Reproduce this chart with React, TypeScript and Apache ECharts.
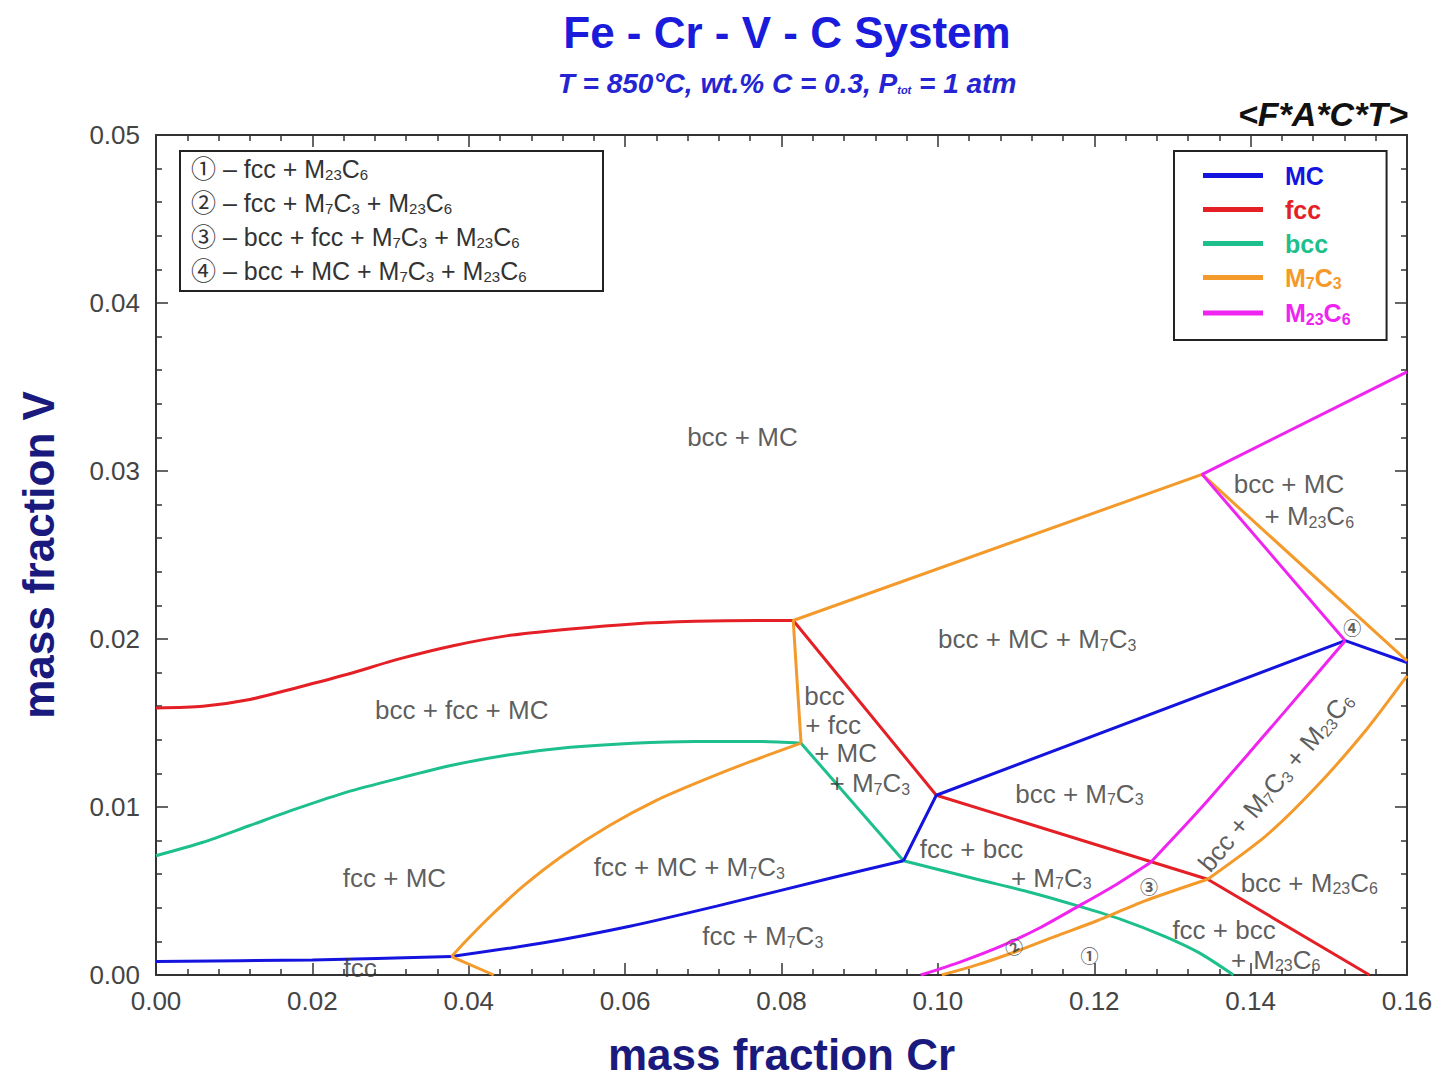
import React, { useEffect, useRef } from 'react';
import * as echarts from 'echarts';

const FONT = "'Liberation Sans', Arial, Helvetica, 'Noto Sans CJK SC', sans-serif";

// ---- phase boundary data: [mass fraction Cr, mass fraction V] ----
const fccCurve = [[0, 0.0159], [0.006, 0.016], [0.012, 0.0164], [0.018, 0.0171], [0.0245, 0.0179], [0.031, 0.0188], [0.038, 0.0196], [0.045, 0.0202], [0.053, 0.0206], [0.061, 0.0209], [0.069, 0.02105], [0.077, 0.0211], [0.0815, 0.0211]];
const fccLine = [[0.0815, 0.0211], [0.0998, 0.0107], [0.1345, 0.0057], [0.1552, 0]];

const bccCurve = [[0, 0.0071], [0.006, 0.0079], [0.012, 0.0089], [0.018, 0.0099], [0.0245, 0.0109], [0.031, 0.0117], [0.038, 0.0125], [0.045, 0.0131], [0.053, 0.01355], [0.061, 0.0138], [0.069, 0.0139], [0.077, 0.0139], [0.0825, 0.0138]];
const bccLine = [[0.0825, 0.0138], [0.0956, 0.0068]];
const bccLower = [[0.0956, 0.0068], [0.105, 0.0057], [0.112, 0.0049], [0.118, 0.0041], [0.1235, 0.0033], [0.129, 0.0023], [0.1335, 0.0013], [0.1378, 0]];

const mcFlat = [[0, 0.0008], [0.02, 0.0009], [0.0378, 0.0011]];
const mcMid = [[0.0378, 0.0011], [0.0494, 0.0019], [0.0606, 0.0029], [0.0717, 0.0041], [0.0866, 0.0058], [0.0956, 0.0068]];
const mcUpper = [[0.0956, 0.0068], [0.0998, 0.0107], [0.1521, 0.0199], [0.16, 0.0186]];

const m7Foot = [[0.0378, 0.0011], [0.0432, 0]];
const m7Curve = [[0.0378, 0.0011], [0.04, 0.0022], [0.043, 0.0036], [0.047, 0.0053], [0.052, 0.0071], [0.058, 0.0089], [0.064, 0.0104], [0.07, 0.0116], [0.076, 0.0127], [0.0825, 0.0138]];
const m7Upper = [[0.0825, 0.0138], [0.0815, 0.0211], [0.1338, 0.0298], [0.16, 0.0187]];
const m7LowA = [[0.1005, 0], [0.105, 0.0006], [0.11, 0.0014], [0.115, 0.0023], [0.1202, 0.0032], [0.1264, 0.0044], [0.1345, 0.0057]];
const m7LowB = [[0.1345, 0.0057], [0.142, 0.0083], [0.1484, 0.0112], [0.1548, 0.0146], [0.16, 0.0178]];

const m23Upper = [[0.16, 0.0359], [0.1338, 0.0298], [0.1521, 0.0199]];
const m23LowA = [[0.0978, 0], [0.103, 0.0008], [0.108, 0.0017], [0.113, 0.0028], [0.118, 0.0041], [0.1225, 0.0053], [0.1272, 0.0067]];
const m23LowB = [[0.1272, 0.0067], [0.1334, 0.0098], [0.1407, 0.0137], [0.1479, 0.0176], [0.1521, 0.0199]];

const legendNames = ['MC', 'fcc', 'bcc', 'M7C3', 'M23C6'];
const legendTexts = ['MC', 'fcc', 'bcc', 'M_7C_3', 'M_23C_6'];
const phaseColors = ['#1414de', '#e41f25', '#1dbf8c', '#f39a2b', '#f024f0'];

// region labels: [x, y, text, rotation°]
const regionLabels: [number, number, string, number][] = [
  [0.075, 0.032, 'bcc + MC', 0],
  [0.1449, 0.0292, 'bcc + MC', 0],
  [0.1475, 0.0273, '+ M_23C_6', 0],
  [0.1127, 0.02, 'bcc + MC + M_7C_3', 0],
  [0.0391, 0.0158, 'bcc + fcc + MC', 0],
  [0.0855, 0.0166, 'bcc', 0],
  [0.0866, 0.0149, '+ fcc', 0],
  [0.0882, 0.0132, '+ MC', 0],
  [0.0913, 0.0114, '+ M_7C_3', 0],
  [0.1181, 0.0108, 'bcc + M_7C_3', 0],
  [0.0305, 0.0058, 'fcc + MC', 0],
  [0.0682, 0.0064, 'fcc + MC + M_7C_3', 0],
  [0.1043, 0.0075, 'fcc + bcc', 0],
  [0.1145, 0.0058, '+ M_7C_3', 0],
  [0.0776, 0.0023, 'fcc + M_7C_3', 0],
  [0.0261, 0.0004, 'fcc', 0],
  [0.1475, 0.0055, 'bcc + M_23C_6', 0],
  [0.1366, 0.0027, 'fcc + bcc', 0],
  [0.1432, 0.0009, '+ M_23C_6', 0],
  [0.1432, 0.0115, 'bcc + M_7C_3 + M_23C_6', 50],
];

// four-phase markers: [x, y, symbol, rotation°]
const markerLabels: [number, number, string, number][] = [
  [0.1194, 0.0011, '①', 0],
  [0.1098, 0.0016, '②', 30],
  [0.127, 0.0052, '③', 0],
  [0.153, 0.0206, '④', 0],
];

const keyLines = [
  '① – fcc + M_23C_6',
  '② – fcc + M_7C_3 + M_23C_6',
  '③ – bcc + fcc + M_7C_3 + M_23C_6',
  '④ – bcc + MC + M_7C_3 + M_23C_6',
];

const sub = (t: string, style = 's') => t.replace(/_(\d+|tot)/g, `{${style}|$1}`);

function buildOption() {
  const colorOf = (n: string) => phaseColors[legendNames.indexOf(n)];
  const segs: { name: string; data: number[][]; smooth: number }[] = [
    { name: 'fcc', data: fccCurve, smooth: 0.25 },
    { name: 'fcc', data: fccLine, smooth: 0 },
    { name: 'bcc', data: bccCurve, smooth: 0.25 },
    { name: 'bcc', data: bccLine, smooth: 0 },
    { name: 'bcc', data: bccLower, smooth: 0.25 },
    { name: 'MC', data: mcFlat, smooth: 0.25 },
    { name: 'MC', data: mcMid, smooth: 0.25 },
    { name: 'MC', data: mcUpper, smooth: 0 },
    { name: 'M7C3', data: m7Foot, smooth: 0 },
    { name: 'M7C3', data: m7Curve, smooth: 0.25 },
    { name: 'M7C3', data: m7Upper, smooth: 0 },
    { name: 'M7C3', data: m7LowA, smooth: 0.25 },
    { name: 'M7C3', data: m7LowB, smooth: 0.25 },
    { name: 'M23C6', data: m23Upper, smooth: 0 },
    { name: 'M23C6', data: m23LowA, smooth: 0.25 },
    { name: 'M23C6', data: m23LowB, smooth: 0.25 },
  ];

  const lineSeries = segs.map((s) => ({
    type: 'line',
    name: s.name,
    data: s.data,
    smooth: s.smooth,
    symbol: 'none',
    showSymbol: false,
    lineStyle: { width: 3, color: colorOf(s.name) },
    itemStyle: { color: colorOf(s.name) },
    z: 3,
  }));

  const subRich = { s: { fontSize: 16, padding: [12, 0, 0, 0], fontFamily: FONT } };

  const labelSeries = {
    type: 'scatter',
    name: 'regions',
    symbol: 'circle',
    symbolSize: 1,
    itemStyle: { color: 'rgba(0,0,0,0)' },
    silent: true,
    z: 5,
    data: regionLabels.map(([x, y, t, r]) => ({
      value: [x, y],
      label: { formatter: sub(t), rotate: r },
    })),
    label: {
      show: true,
      position: 'inside',
      fontSize: 26,
      fontFamily: FONT,
      color: '#333',
      rich: subRich,
    },
  };

  const markerSeries = {
    type: 'scatter',
    name: 'markers',
    symbol: 'circle',
    symbolSize: 1,
    itemStyle: { color: 'rgba(0,0,0,0)' },
    silent: true,
    z: 5,
    data: markerLabels.map(([x, y, t, r]) => ({
      value: [x, y],
      label: { formatter: t, rotate: r },
    })),
    label: { show: true, position: 'inside', fontSize: 18, fontWeight: 'bold', fontFamily: FONT, color: '#333' },
  };

  const axisCommon = {
    type: 'value',
    axisLine: { show: true, onZero: false, lineStyle: { color: '#333', width: 2 } },
    axisTick: { show: true, inside: true, length: 12, lineStyle: { color: '#333', width: 1.5 } },
    minorTick: { show: true, splitNumber: 5, length: 6, lineStyle: { color: '#333', width: 1.5 } },
    splitLine: { show: false },
    minorSplitLine: { show: false },
  };

  const nameStyle = { fontSize: 44, fontWeight: 'bold', color: '#1a1a7e', fontFamily: FONT };

  return {
    animation: false,
    backgroundColor: '#fff',
    textStyle: { fontFamily: FONT },
    title: {
      text: 'Fe - Cr - V - C System',
      subtext: sub('T = 850°C, wt.% C = 0.3, P_tot = 1 atm'),
      left: 782,
      textAlign: 'center',
      top: 5,
      itemGap: 16,
      textStyle: { fontSize: 44, fontWeight: 'bold', color: '#1b1bdc', fontFamily: FONT },
      subtextStyle: {
        fontSize: 28,
        fontWeight: 'bold',
        fontStyle: 'italic',
        color: '#2424d2',
        fontFamily: FONT,
        rich: { s: { fontSize: 11, padding: [13, 0, 0, 0], fontWeight: 'bold', fontStyle: 'italic', color: '#2424d2' } },
      },
    },
    grid: { left: 156, right: 34, top: 135, bottom: 105, containLabel: false },
    xAxis: [
      {
        ...axisCommon,
        position: 'bottom',
        min: 0,
        max: 0.16,
        interval: 0.02,
        axisLabel: { formatter: (v: number) => v.toFixed(2), fontSize: 26, color: '#444', margin: 13, fontFamily: FONT },
        name: 'mass fraction Cr',
        nameLocation: 'middle',
        nameGap: 57,
        nameTextStyle: nameStyle,
      },
      { ...axisCommon, position: 'top', min: 0, max: 0.16, interval: 0.02, axisLabel: { show: false } },
    ],
    yAxis: [
      {
        ...axisCommon,
        position: 'left',
        min: 0,
        max: 0.05,
        interval: 0.01,
        axisLabel: { formatter: (v: number) => v.toFixed(2), fontSize: 26, color: '#444', margin: 16, fontFamily: FONT },
        name: 'mass fraction V',
        nameLocation: 'middle',
        nameGap: 96,
        nameTextStyle: nameStyle,
      },
      { ...axisCommon, position: 'right', min: 0, max: 0.05, interval: 0.01, axisLabel: { show: false } },
    ],
    legend: {
      orient: 'vertical',
      left: 1174,
      top: 151,
      selectedMode: false,
      icon: 'rect',
      itemWidth: 60,
      itemHeight: 5,
      itemGap: 9,
      padding: [12, 36, 13, 29],
      borderColor: '#222',
      borderWidth: 2,
      backgroundColor: '#fff',
      data: legendNames.map((n, i) => ({ name: n, textStyle: { color: phaseColors[i] } })),
      formatter: (n: string) => {
        const i = legendNames.indexOf(n);
        return sub(legendTexts[i], 'l' + i);
      },
      textStyle: {
        fontSize: 25,
        fontWeight: 'bold',
        fontFamily: FONT,
        padding: [0, 0, 0, 17],
        rich: Object.fromEntries(
          phaseColors.map((c, i) => ['l' + i, { fontSize: 16, fontWeight: 'bold', color: c, padding: [12, 0, 0, 0], fontFamily: FONT }])
        ),
      },
    },
    graphic: [
      {
        type: 'group',
        left: 179,
        top: 150,
        z: 10,
        children: [
          { type: 'rect', shape: { x: 0, y: 0, width: 423, height: 140 }, style: { fill: '#fff', stroke: '#222', lineWidth: 2 } },
          ...keyLines.map((t, i) => ({
            type: 'text',
            x: 11,
            y: 18 + i * 34,
            style: {
              text: sub(t),
              fontSize: 25,
              fontFamily: FONT,
              fill: '#333',
              verticalAlign: 'middle',
              rich: { s: { fontSize: 15, padding: [11, 0, 0, 0], fill: '#333', fontFamily: FONT } },
            },
          })),
        ],
      },
      {
        type: 'text',
        x: 1408,
        y: 114,
        z: 10,
        style: {
          text: '<F*A*C*T>',
          fontSize: 34,
          fontWeight: 'bold',
          fontStyle: 'italic',
          fontFamily: FONT,
          fill: '#111',
          align: 'right',
          verticalAlign: 'middle',
        },
      },
    ],
    series: [...lineSeries, labelSeries, markerSeries],
  };
}

export default function App() {
  const ref = useRef<HTMLDivElement>(null);
  useEffect(() => {
    const chart = echarts.init(ref.current!, null, { renderer: 'svg' });
    chart.setOption(buildOption() as any);
    return () => chart.dispose();
  }, []);
  return (
    <div
      ref={ref}
      style={{ position: 'fixed', left: 0, top: 0, width: 1441, height: 1081, background: '#fff' }}
    />
  );
}
